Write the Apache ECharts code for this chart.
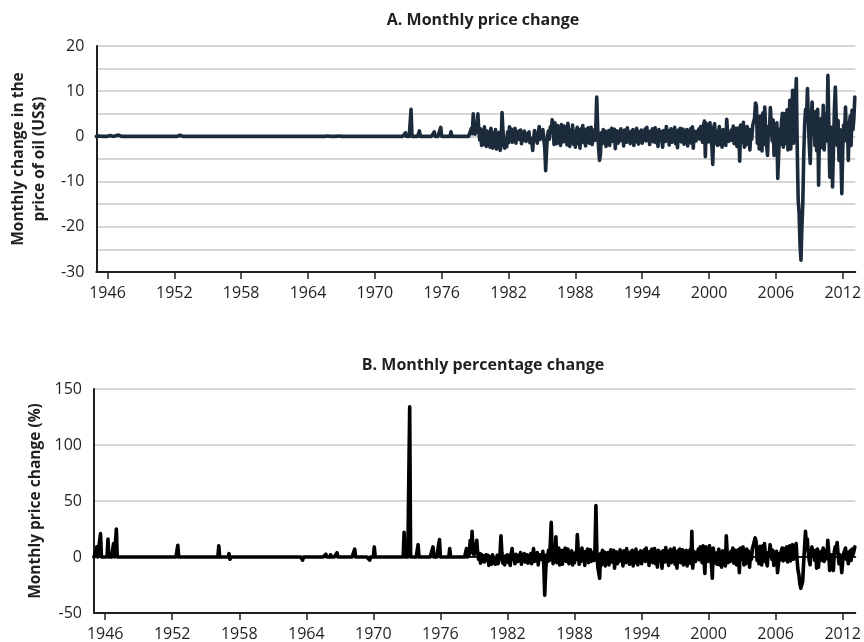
<!DOCTYPE html>
<html>
<head>
<meta charset="utf-8">
<title>Oil price changes</title>
<script src="https://cdn.jsdelivr.net/npm/echarts@6/dist/echarts.min.js"></script>
<style>
  html, body { margin: 0; padding: 0; background: #ffffff; }
  #chart { width: 864px; height: 642px; }
</style>
</head>
<body>
<div id="chart"></div>
<script>
// Monthly series start in January 1945; before 1978 the price was mostly fixed,
// so only the months that moved are listed (all other months are 0).
const START_YEAR = 1945;
const DENSE_FROM = 1978;

const tickYears = [1946, 1952, 1958, 1964, 1970, 1976, 1982, 1988, 1994, 2000, 2006, 2012];

// [year, month index 0-11, change in US$]
const changeEvents = [
  [1945, 3, 0.1], [1945, 7, 0.2], [1946, 3, 0.2], [1946, 9, 0.15], [1947, 0, 0.3],
  [1952, 6, 0.25], [1956, 2, 0.25], [1957, 1, 0.08], [1957, 2, -0.05], [1957, 11, -0.05],
  [1963, 8, -0.08], [1965, 9, 0.07], [1966, 2, 0.06], [1966, 9, 0.1], [1968, 4, 0.2],
  [1969, 8, -0.08], [1970, 1, 0.25], [1972, 9, 0.8], [1973, 3, 6.0], [1974, 0, 1.2],
  [1975, 4, 1.0], [1975, 11, 2.0], [1976, 10, 1.0]
];

// [year, month index 0-11, change in %]
const pctEvents = [
  [1945, 3, 9], [1945, 7, 21], [1946, 3, 16], [1946, 9, 12], [1947, 0, 25],
  [1952, 6, 10.4], [1956, 2, 10], [1957, 1, 3], [1957, 2, -2], [1957, 11, -1.5],
  [1963, 8, -2.8], [1965, 9, 2.5], [1966, 2, 2], [1966, 9, 3.8], [1968, 4, 7],
  [1969, 8, -2.8], [1970, 1, 9], [1972, 9, 22], [1973, 3, 134], [1974, 0, 11],
  [1975, 4, 9], [1975, 11, 15.5], [1976, 10, 7.5]
];

// Monthly change in US$, January 1978 onward (12 values per line)
const changeSince1978 = [
  0, 0, 0, 0, 0.3, 0, 0, 0.3, 1.8, 0.6, 5.0, 1.0,                 // 1978
  0.5, 1.4, 2.1, 5.0, 1.2, -0.8, 1.6, -2.0, 0.9, -1.8, 2.1, -0.6, // 1979
  -2.2, 1.2, -1.5, 0.6, -2.4, 1.8, -0.5, -2.6, 0.8, -1.0, 1.5, -2.8,
  0.4, -1.2, 0.9, -3.1, -2.0, 5.3, 1.2, -1.0, -2.6, -0.4, -2.3, 1.0,
  -1.4, 2.1, -0.8, 1.6, -1.3, 0.7, -0.9, 1.8, -1.5, 0.5, -0.6, 1.2,
  -0.7, 1.4, -1.6, 0.3, -0.9, 1.2, -0.4, -1.1, 0.6, -0.8, 1.0, -1.4,
  -0.4, -1.0, -3.1, -0.6, 1.3, -0.9, 0.4, -1.5, 0.8, 2.2, -0.7, 0.6,
  0.8, 1.5, -0.8, -2.4, -7.6, -2.8, 0.3, 1.2, -0.6, 2.1, 0.9, 3.7,  // 1985
  2.5, -1.8, 3.0, 0.4, -1.6, 2.4, -1.0, 1.8, -2.0, 2.6, 0.2, -1.2,
  2.3, -0.8, 1.5, -1.9, 2.9, 0.6, -2.2, 1.4, -0.5, 2.5, -1.7, 0.9,
  -2.4, 1.2, 2.0, -1.6, 0.8, -2.6, 1.7, -0.9, 2.4, -1.4, 0.5, -2.1,
  1.6, -0.7, 1.9, -1.5, 0.9, 2.0, -1.8, 0.6, 1.4, -0.9, 2.0, 8.7,
  2.0, -2.5, -5.3, -4.0, 0.8, -1.6, 1.5, -0.4, 1.2, -2.2, 0.9, -0.6, // 1990
  1.3, -2.0, 0.5, 1.8, -1.1, -0.3, 1.6, -2.7, 0.7, 1.2, -1.5, 0.4,
  -1.0, 1.7, -0.6, 0.9, -2.1, 1.4, 0.2, -1.3, 1.9, -0.8, 0.6, -1.6,
  1.1, -0.5, 1.5, -2.0, 0.8, -1.2, 1.8, -0.4, -1.7, 1.0, -0.9, 1.4,
  -1.5, 0.9, -0.3, 1.6, -1.0, 2.0, -0.7, 0.5, -1.8, 1.2, -0.6, 1.7,
  -1.2, 0.8, 1.9, -1.4, 0.3, -2.2, 1.5, -0.8, 1.1, -0.5, -2.4, 1.3, // 1995
  0.6, -1.1, 2.2, -0.7, 1.3, -1.9, 0.4, 1.7, -1.3, 0.9, -0.4, 2.0,
  -1.6, 0.7, -2.5, 1.4, -0.6, 1.8, -1.2, 0.5, 1.6, -1.7, 0.8, -0.9,
  1.5, -2.1, 0.9, -0.4, 1.7, -1.5, 2.1, -2.6, 1.2, 0.3, -1.0, 1.1,
  0.5, 1.6, -0.6, 2.2, 0.8, -1.3, 2.5, 3.4, -4.5, 2.9, 1.4, -1.2,
  2.2, 3.0, -1.0, -2.0, -6.2, 2.0, 2.8, -1.5, 1.1, -2.0, 0.6, 2.2,  // 2000
  -1.8, 0.9, -2.4, 1.5, -0.4, 1.2, -2.0, 3.8, 0.7, -1.1, 0.5, -0.9,
  1.4, -0.8, 2.3, -1.6, 0.6, 1.8, -2.2, 0.4, 1.9, -5.5, 2.5, -0.7,
  -1.3, 3.1, -2.4, 0.8, -1.9, 2.2, -0.5, 1.6, -3.0, 1.0, -0.6, 2.4,
  2.6, 4.0, 7.4, 6.8, -1.5, 3.9, -2.8, 4.5, 1.0, -3.2, 5.2, -1.8,
  6.5, 1.0, -2.0, -4.2, 2.2, 0.5, 6.4, 2.8, -1.0, 3.6, -4.2, 1.2,   // 2005
  -2.5, 3.0, -9.3, -4.0, 1.6, -1.8, 3.2, 5.1, -2.4, 5.0, 0.8, -1.6,
  5.9, -3.0, 2.5, 8.0, -2.8, 3.2, 10.2, -1.5, 4.6, 7.5, 12.8, -3.0,
  -14.0, -17.0, -24.0, -27.4, -20.0, -14.8, -4.0, 2.9, 6.0, 4.0, 10.6, 3.0,
  -2.0, -6.0, 3.0, 7.6, 1.5, 4.8, -2.0, 5.5, -3.2, 6.0, -10.8, 2.5,
  -1.5, 4.0, -2.5, 6.9, -3.0, 2.0, 5.0, -1.0, 13.5, 3.0, -9.0, -4.0, // 2010
  2.0, -11.2, -3.0, 6.0, 10.9, 4.0, -2.0, 3.5, -5.3, 1.5, -4.0, -12.7,
  -3.0, 2.5, 1.0, 6.5, -1.0, 3.0, -5.3, 2.0, 4.5, -2.0, 5.8, 1.5,
  4.0, 8.7                                                           // 2013
];

// Monthly change in %, January 1978 onward (12 values per line)
const pctSince1978 = [
  0, 0, 0, 0, 7.5, 0, 0, 2.0, 15.0, 4.0, 23.0, 5.0,                // 1978
  2.0, 4.0, 9.0, 15.0, 3.5, -2.0, 3.0, -5.5, 2.5, -3.5, 1.0, -4.5,
  -6.0, 2.0, -3.0, 1.5, -7.5, 0.5, -2.5, -6.5, 2.0, -5.0, -1.0, -6.5,
  -3.0, 1.5, -6.0, -7.0, 2.5, 19.0, 4.0, -5.5, 0.5, -7.0, 1.0, -3.5,
  2.0, -5.0, 1.0, -7.5, 3.0, 7.5, -2.0, 0.5, -6.0, 2.5, -1.5, -4.0,
  1.5, -3.0, 4.0, -6.5, 0.5, -2.0, 3.0, -4.5, -1.0, 2.0, -5.5, 1.0,
  -2.5, 3.0, -6.0, 0.5, 7.5, -4.0, 1.5, -3.0, 4.0, -7.0, 0.0, 2.0,
  3.0, -2.0, 5.0, -8.0, -34.0, -14.0, 2.0, -4.0, 6.0, -3.0, 12.0, 31.0, // 1985
  4.0, -6.0, 9.0, -3.0, 18.0, -5.0, 3.0, 8.0, -7.0, 6.0, -2.0, -6.5,
  6.0, -2.5, 8.0, -4.0, 2.5, 7.0, -6.0, 1.5, -3.5, 5.5, -7.0, 2.0,
  -5.0, 4.0, -2.0, 20.0, 6.0, -6.5, 1.0, -4.0, 8.0, -2.5, 3.0, -7.5,
  5.0, -2.0, 7.0, -5.0, 2.0, 6.5, -4.0, 1.5, 4.0, -3.0, 8.0, 46.0,
  5.0, -9.0, -14.0, -19.0, 3.0, -7.0, 6.0, -2.0, 4.5, -8.0, 3.5, -3.0, // 1990
  4.0, -7.0, 1.5, 6.5, -4.5, -1.0, 6.0, -10.0, 2.5, 4.5, -6.0, 1.5,
  -4.0, 6.5, -2.5, 3.5, -8.0, 5.5, 1.0, -5.0, 7.5, -3.0, 2.5, -6.5,
  4.5, -2.0, 6.0, -8.0, 3.0, -5.0, 7.0, -1.5, -7.0, 4.0, -3.5, 5.5,
  -6.0, 3.5, -1.0, 6.5, -4.0, 8.0, -3.0, 2.0, -7.5, 5.0, -2.5, 7.0,
  -5.0, 3.0, 7.5, -6.0, 1.0, -9.0, 6.0, -3.0, 4.5, -2.0, -10.0, 5.5,  // 1995
  2.5, -4.5, 8.5, -3.0, 5.0, -7.5, 1.5, 7.0, -5.0, 3.5, -1.5, 8.0,
  -6.5, 3.0, -10.0, 5.5, -2.5, 7.0, -5.0, 2.0, 6.5, -7.0, 3.0, -4.0,
  6.0, -8.0, 3.5, -1.5, 6.5, -6.0, 23.0, -10.0, 5.0, 1.0, -4.0, 4.5,
  2.0, 7.0, -2.5, 9.0, 3.0, -5.0, 10.0, 11.0, -14.6, 9.0, 5.0, -4.0,
  7.0, 10.0, -3.0, -6.0, -19.0, 8.0, 9.0, -5.0, 3.5, -6.5, 2.0, 7.0,  // 2000
  -7.0, 3.5, -9.0, 5.5, -1.5, 4.5, -8.0, 19.0, 2.5, -5.0, 2.0, -4.0,
  5.0, -3.0, 8.0, -5.5, 2.0, 6.0, -7.0, 1.5, 6.5, -14.0, 8.0, -2.5,
  -4.0, 9.0, -7.0, 2.5, -6.0, 7.0, -1.5, 5.0, -9.0, 3.0, -2.0, 7.5,
  6.0, 9.0, 17.0, 14.0, -3.0, 8.0, -6.0, 9.5, 2.0, -7.0, 10.0, -4.0,
  12.0, 2.0, -4.0, -8.0, 4.0, 1.0, 11.0, 4.5, -2.0, 6.0, -7.5, 2.5,   // 2005
  -4.0, 5.0, -14.0, -6.0, 3.0, -2.5, 5.0, 8.0, -3.5, 7.5, 1.5, -2.5,
  9.0, -4.5, 3.5, 10.0, -3.5, 4.0, 11.0, -2.0, 5.0, 8.0, 12.0, -2.5,
  -12.0, -16.0, -24.0, -28.0, -29.0, -22.0, -6.0, 8.0, 23.0, 12.0, 16.0, 4.0,
  -3.0, -7.0, 4.0, 9.0, 2.0, 5.5, -3.0, 6.0, -10.0, 7.0, -9.0, 3.0,
  -2.0, 5.0, -3.0, 8.0, -4.0, 2.5, 6.0, -1.5, 15.0, 4.0, -12.0, -5.0, // 2010
  2.0, -10.0, -12.0, 5.0, 9.0, 4.0, 13.0, 3.0, -6.0, 2.0, -4.0, -14.0,
  -4.0, 3.0, 1.5, 8.0, -2.0, 4.0, -6.0, 3.0, 5.5, -3.0, 7.0, 2.0,
  5.0, 9.0                                                            // 2013
];

// Turn sparse early months plus the dense monthly run into [decimal year, value] pairs.
function monthlySeries(events, dense) {
  const early = new Array((DENSE_FROM - START_YEAR) * 12).fill(0);
  events.forEach(([y, m, v]) => { early[(y - START_YEAR) * 12 + m] = v; });
  return early.concat(dense).map((v, i) => [START_YEAR + i / 12, v]);
}

const FONT = '"Open Sans", "Noto Sans", sans-serif';
const INK = '#231f20';
const GRID_GREY = '#c8c8c8';
const X_MIN = 1945, X_MAX = 2013.13;

function timeAxis(gridIndex) {
  return {
    type: 'value', gridIndex, min: X_MIN, max: X_MAX,
    axisLine: { show: true, onZero: false, lineStyle: { color: INK, width: 2 } },
    axisTick: { show: true, customValues: tickYears, length: 7, lineStyle: { color: INK, width: 1.5 } },
    axisLabel: { customValues: tickYears, margin: 13, color: INK, fontSize: 16, fontFamily: FONT,
      formatter: v => String(v) },
    splitLine: { show: false }
  };
}

const chart = echarts.init(document.getElementById('chart'), null, { renderer: 'canvas' });

chart.setOption({
  animation: false,
  backgroundColor: '#ffffff',
  title: [
    { text: 'A. Monthly price change', left: 478, top: 7, textAlign: 'center',
      textStyle: { fontFamily: FONT, fontSize: 16, fontWeight: 'bold', color: INK } },
    { text: 'B. Monthly percentage change', left: 478, top: 352, textAlign: 'center',
      textStyle: { fontFamily: FONT, fontSize: 16, fontWeight: 'bold', color: INK } }
  ],
  grid: [
    { left: 94, top: 46, width: 768, height: 226 },
    { left: 94, top: 389, width: 768, height: 226 }
  ],
  xAxis: [
    timeAxis(0),
    timeAxis(1),
    // closing line along the top of panel B
    { type: 'value', gridIndex: 1, position: 'top', min: X_MIN, max: X_MAX,
      axisLine: { show: true, lineStyle: { color: INK, width: 2 } },
      axisTick: { show: false }, axisLabel: { show: false }, splitLine: { show: false } }
  ],
  yAxis: [
    {
      type: 'value', gridIndex: 0, min: -30, max: 20, interval: 5,
      name: 'Monthly change in the\nprice of oil (US$)', nameLocation: 'middle', nameGap: 45,
      nameTextStyle: { fontFamily: FONT, fontSize: 15.5, fontWeight: 'bold', color: INK, lineHeight: 21 },
      axisLine: { show: true, lineStyle: { color: INK, width: 2 } },
      axisTick: { show: false },
      axisLabel: { margin: 12, color: INK, fontSize: 16, fontFamily: FONT,
        formatter: v => (v % 10 === 0 ? String(v) : '') },
      splitLine: { show: true, lineStyle: { color: GRID_GREY, width: 1.5 } }
    },
    {
      type: 'value', gridIndex: 1, min: -50, max: 150, interval: 50,
      name: 'Monthly price change (%)', nameLocation: 'middle', nameGap: 45,
      nameTextStyle: { fontFamily: FONT, fontSize: 15.5, fontWeight: 'bold', color: INK },
      axisLine: { show: true, lineStyle: { color: INK, width: 2 } },
      axisTick: { show: false },
      axisLabel: { margin: 12, color: INK, fontSize: 16, fontFamily: FONT },
      splitLine: { show: true, lineStyle: { color: GRID_GREY, width: 1.5 } }
    }
  ],
  series: [
    {
      type: 'line', xAxisIndex: 0, yAxisIndex: 0, showSymbol: false, sampling: null,
      data: monthlySeries(changeEvents, changeSince1978),
      lineStyle: { color: '#1c2b3b', width: 3.6, join: 'round', cap: 'round' }, z: 3
    },
    {
      type: 'line', xAxisIndex: 1, yAxisIndex: 1, showSymbol: false, sampling: null,
      data: monthlySeries(pctEvents, pctSince1978),
      lineStyle: { color: '#000000', width: 3.6, join: 'round', cap: 'round' }, z: 3
    }
  ]
});
</script>
</body>
</html>
